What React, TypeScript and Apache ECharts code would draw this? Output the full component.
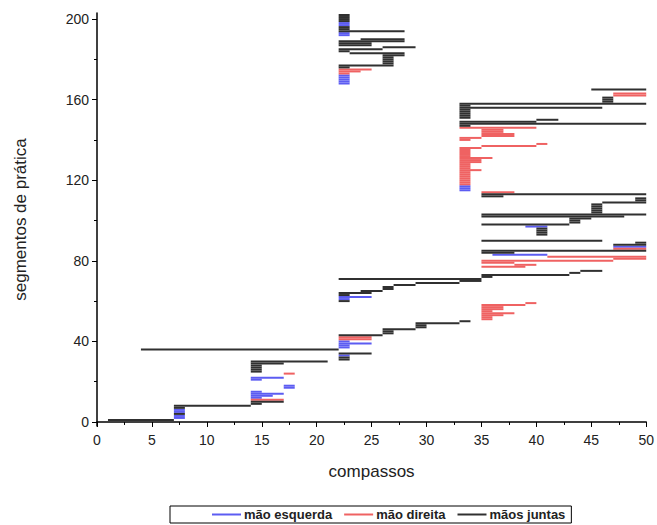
import React, { useEffect, useRef } from "react";
import * as echarts from "echarts";

// [start compasso, end compasso, segment number]
const leftHand: number[][] = [
  [7, 8, 2], [7, 8, 3], [7, 8, 5], [7, 8, 6],
  [14, 15, 12], [14, 16, 13], [14, 17, 14], [14, 15, 15], [17, 18, 17], [17, 18, 18],
  [14, 15, 21], [14, 17, 22],
  [22, 23, 33], [22, 23, 37], [22, 23, 38], [22, 25, 39], [22, 23, 40],
  [22, 23, 61], [22, 25, 62],
  [36, 41, 83], [47, 50, 87], [39, 41, 97],
  [33, 34, 115], [33, 34, 116], [33, 34, 117],
  [22, 23, 168], [22, 23, 169], [22, 23, 170], [22, 23, 171], [22, 23, 172],
  [22, 23, 192], [22, 23, 193], [22, 23, 197], [22, 23, 198],
];

const rightHand: number[][] = [
  [14, 17, 11], [17, 18, 24],
  [22, 25, 41], [22, 25, 42],
  [35, 36, 51], [35, 36, 52], [35, 37, 53], [35, 38, 54], [35, 36, 55], [35, 37, 56],
  [35, 37, 57], [35, 39, 58], [39, 40, 59],
  [35, 39, 77], [38, 40, 78], [35, 38, 79], [35, 47, 80], [47, 50, 81], [41, 50, 82], [47, 50, 86],
  [35, 38, 114], [33, 34, 118], [33, 34, 119], [33, 34, 120], [33, 34, 121], [33, 34, 122],
  [33, 34, 123], [33, 34, 124], [33, 35, 125], [33, 34, 126], [33, 34, 127], [33, 34, 128],
  [33, 35, 129], [33, 35, 130], [33, 36, 131], [33, 34, 132], [33, 34, 133], [33, 34, 134],
  [33, 34, 135], [33, 35, 136], [35, 40, 137], [40, 41, 138], [33, 34, 140], [33, 35, 141],
  [35, 38, 142], [35, 38, 143], [35, 37, 144], [35, 37, 145], [33, 40, 146],
  [47, 50, 162], [47, 50, 163],
  [22, 23, 173], [22, 24, 174], [22, 25, 175],
];

const bothHands: number[][] = [
  [1, 7, 1], [7, 8, 4], [7, 8, 7], [7, 14, 8], [14, 15, 9], [14, 17, 10],
  [14, 15, 25], [14, 15, 26], [14, 15, 27], [14, 15, 28], [14, 17, 29], [14, 21, 30],
  [22, 23, 31], [22, 23, 32], [22, 25, 34], [4, 22, 36],
  [22, 26, 43], [26, 27, 44], [26, 27, 45], [26, 29, 46], [29, 30, 47], [29, 30, 48], [29, 33, 49], [33, 34, 50],
  [22, 23, 60], [22, 23, 63], [22, 25, 64], [24, 26, 65], [26, 27, 66], [26, 27, 67], [27, 29, 68],
  [29, 33, 69], [33, 35, 70], [22, 35, 71], [35, 36, 72], [35, 43, 73], [43, 44, 74], [44, 46, 75],
  [35, 38, 84], [35, 50, 85], [47, 50, 88], [49, 50, 89], [35, 46, 90],
  [40, 41, 93], [40, 41, 94], [40, 41, 95], [40, 41, 96], [35, 43, 98],
  [43, 44, 99], [43, 44, 100], [43, 45, 101], [35, 48, 102], [35, 50, 103],
  [45, 46, 104], [45, 46, 105], [45, 46, 106], [45, 46, 107], [45, 46, 108], [46, 50, 109],
  [49, 50, 110], [49, 50, 111], [35, 37, 112], [35, 50, 113],
  [33, 34, 147], [33, 50, 148], [33, 40, 149], [40, 42, 150], [33, 34, 151], [33, 34, 152],
  [33, 34, 153], [33, 34, 154], [33, 34, 155], [33, 46, 156], [33, 34, 157], [33, 50, 158],
  [46, 47, 159], [46, 47, 160], [46, 47, 161], [45, 50, 165],
  [22, 23, 176], [22, 27, 177], [26, 27, 178], [26, 27, 179], [26, 27, 180], [26, 27, 181],
  [26, 28, 182], [23, 28, 183], [22, 23, 184], [22, 26, 185], [26, 29, 186], [22, 25, 187],
  [22, 25, 188], [22, 28, 189], [24, 28, 190], [22, 28, 194], [22, 23, 195], [22, 23, 196],
  [22, 23, 199], [22, 23, 200], [22, 23, 201], [22, 23, 202],
];

const seriesNames = ["mão esquerda", "mão direita", "mãos juntas"];
const seriesColors = ["#5c5cf2", "#ef6262", "#303030"];
const yLabelValues = [0, 40, 80, 120, 160, 200];
const yMinorValues = [20, 60, 100, 140, 180];

export default function App() {
  const ref = useRef<HTMLDivElement>(null);
  useEffect(() => {
    if (!ref.current) return;
    const chart = echarts.init(ref.current, null, { renderer: "svg" });
    const makeSeries = (name: string, color: string, data: number[][]) => ({
      type: "custom",
      name,
      color,
      xAxisIndex: 0,
      yAxisIndex: 0,
      encode: { x: [0, 1], y: 2 },
      data,
      renderItem: (params: any, api: any) => {
        const s = api.coord([api.value(0), api.value(2)]);
        const e = api.coord([api.value(1), api.value(2)]);
        return {
          type: "line",
          shape: { x1: s[0], y1: s[1], x2: e[0], y2: e[1] },
          style: { stroke: color, lineWidth: 2 },
        };
      },
    });
    const font = "'Liberation Sans', Arial, sans-serif";
    chart.setOption({
      animation: false,
      grid: { left: 97, right: 9, top: 13, bottom: 99, containLabel: false },
      xAxis: {
        type: "value",
        min: 0,
        max: 50,
        interval: 5,
        name: "compassos",
        nameLocation: "middle",
        nameGap: 37,
        nameTextStyle: { fontSize: 17, color: "#222", fontFamily: font },
        axisLine: { show: true, lineStyle: { color: "#000", width: 1.5 } },
        axisTick: { show: true, length: 5, lineStyle: { color: "#000" } },
        minorTick: { show: true, splitNumber: 2, length: 3, lineStyle: { color: "#000" } },
        axisLabel: { fontSize: 14, color: "#222", margin: 7, fontFamily: font },
        splitLine: { show: false },
      },
      yAxis: [
        {
          type: "value",
          min: -2,
          max: 203,
          name: "segmentos de prática",
          nameLocation: "middle",
          nameGap: 68,
          nameTextStyle: { fontSize: 17, color: "#222", fontFamily: font },
          axisLine: { show: true, lineStyle: { color: "#000", width: 1.5 } },
          axisTick: { show: true, length: 5, customValues: yLabelValues, lineStyle: { color: "#000" } },
          axisLabel: { fontSize: 14, color: "#222", margin: 8, customValues: yLabelValues, fontFamily: font },
          splitLine: { show: false },
        },
        {
          type: "value",
          min: -2,
          max: 203,
          position: "left",
          axisLine: { show: false },
          axisTick: { show: true, length: 3, customValues: yMinorValues, lineStyle: { color: "#000" } },
          axisLabel: { show: false, customValues: yMinorValues },
          splitLine: { show: false },
        },
      ],
      legend: {
        left: 170,
        top: 506,
        orient: "horizontal",
        data: seriesNames.map((n) => ({ name: n, icon: "rect" })),
        itemWidth: 29,
        itemHeight: 2,
        itemGap: 12,
        padding: [2, 6, 2, 42],
        borderColor: "#000",
        borderWidth: 1,
        textStyle: {
          fontSize: 13,
          fontWeight: "bold",
          color: "#222",
          fontFamily: "'Liberation Sans Narrow', 'Liberation Sans', sans-serif",
          padding: [0, 0, 0, -2],
        },
      },
      series: [
        makeSeries(seriesNames[0], seriesColors[0], leftHand),
        makeSeries(seriesNames[1], seriesColors[1], rightHand),
        makeSeries(seriesNames[2], seriesColors[2], bothHands),
      ],
    });
    return () => chart.dispose();
  }, []);
  return (
    <div
      ref={ref}
      style={{ position: "absolute", left: 0, top: 0, width: 657, height: 525, background: "#fff" }}
    />
  );
}
